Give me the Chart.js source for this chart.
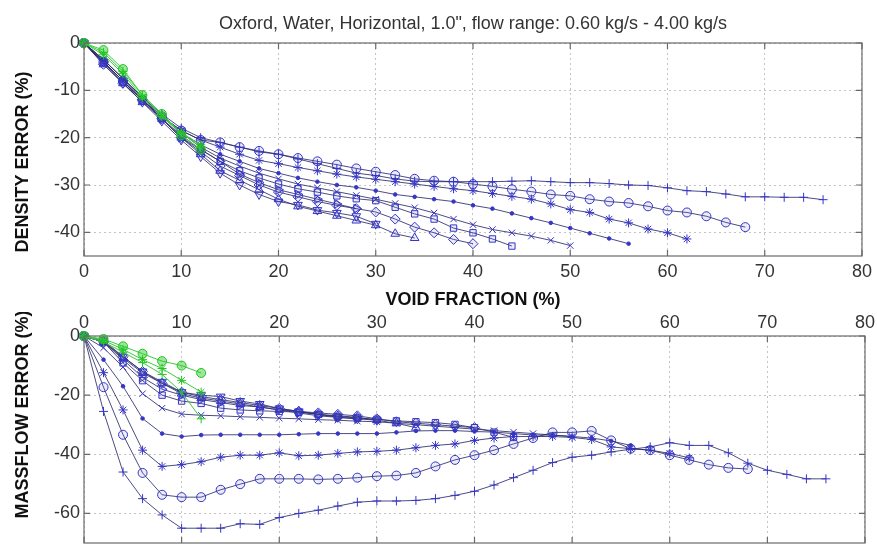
<!DOCTYPE html>
<html>
<head>
<meta charset="utf-8">
<script src="https://cdn.jsdelivr.net/npm/chart.js@4.4.1/dist/chart.umd.min.js"></script>
<style>
  html, body { margin: 0; padding: 0; background: #fff; overflow: hidden; }
  #wrap { position: relative; width: 877px; height: 546px; overflow: hidden; }
  #densityChart { position: absolute; left: 0; top: 0; }
  #massflowChart { position: absolute; left: 0; top: 312px; }
</style>
</head>
<body>
<div id="wrap">
  <canvas id="densityChart" width="877" height="312"></canvas>
  <canvas id="massflowChart" width="877" height="237"></canvas>
</div>
<script>
// Подписи
const chartTitle = 'Oxford, Water, Horizontal, 1.0", flow range: 0.60 kg/s - 4.00 kg/s';
const xAxisTitle = 'VOID FRACTION (%)';
const densityTitle = 'DENSITY ERROR (%)';
const massflowTitle = 'MASSFLOW ERROR (%)';

// Ось X и деления
const voidFraction = [0, 2, 4, 6, 8, 10, 12, 14, 16, 18, 20, 22, 24, 26, 28, 30, 32, 34, 36, 38,
                      40, 42, 44, 46, 48, 50, 52, 54, 56, 58, 60, 62, 64, 66, 68, 70, 72, 74, 76];
const xTicks = [0, 10, 20, 30, 40, 50, 60, 70, 80];
const densityTicks = [0, -10, -20, -30, -40];
const massflowTicks = [0, -20, -40, -60];

// Ошибка плотности (%)
const densGreenO    = [0, -1.5, -5.5, -11, -15, -19.5, -22.5];
const densGreenStar = [0, -2.5, -6.5, -11.5, -15.5, -19, -21.5];
const densGreenPlus = [0, -2, -6, -11, -15, -19, -22];
const densPlus = [0, -3.5, -7.5, -11.5, -15, -18, -20, -21, -22, -23, -23.5, -24.5, -25.5, -26.5, -27.5,
                  -28, -28.7, -29.2, -29.3, -29.3, -29.3, -29.3, -29.2, -29.1, -29.3, -29.5, -29.5, -29.7,
                  -30, -30.1, -30.6, -31.2, -31.4, -31.9, -32.5, -32.5, -32.6, -32.6, -33.1];
const densCircle = [0, -4, -8, -12, -15.5, -18.5, -20.5, -21, -22, -22.8, -23.5, -24.3, -25, -25.7, -26.5,
                    -27.2, -27.9, -28.7, -29.1, -29.3, -29.8, -30.3, -30.9, -31.4, -32, -32.3, -33, -33.5,
                    -33.8, -34.5, -35.4, -35.8, -36.6, -37.9, -38.9];
const densStar = [0, -3.5, -7.5, -11.5, -15.5, -18.5, -20.5, -22, -23.5, -24.8, -25.5, -26.3, -27, -27.7,
                  -28.3, -28.8, -29.3, -29.8, -30.3, -30.8, -31.2, -31.8, -32.4, -33, -34, -35.2, -35.8,
                  -37.2, -38, -39.3, -40.1, -41.4];
const densDot = [0, -3.5, -7.5, -11.5, -15.5, -19, -21.5, -23.5, -25, -26.5, -27.5, -28.5, -29.3, -30,
                 -30.5, -31.2, -32, -32.5, -33, -33.5, -34.3, -35, -36, -37, -38, -39.1, -40.2, -41.3, -42.4];
const densCross = [0, -4, -8, -12, -15.5, -19, -22, -24.3, -26, -27.5, -28.7, -29.8, -30.6, -31.4, -32.2,
                   -33, -33.9, -34.8, -35.9, -37.2, -38.4, -39.4, -40.1, -40.8, -41.7, -42.8];
const densSquare = [0, -4, -8, -12, -16, -19.5, -22.5, -25, -27, -28.5, -29.8, -30.8, -31.5, -32.3, -32.9,
                    -33.3, -34.7, -36.1, -37.2, -39.1, -40.1, -41.4, -42.9];
const densDiamond = [0, -4.5, -8.5, -12, -16, -20, -23, -26, -28, -30, -31.5, -32.5, -33.5, -34.3, -35,
                     -35.7, -37.2, -38.9, -40.1, -41.5, -42.4];
const densTriUp = [0, -4.5, -8.5, -12.5, -16, -20, -23.5, -27, -29, -31, -33, -34.5, -35.5, -36.5, -37.5,
                   -38.5, -40.3, -41.2];
const densTriDown = [0, -4, -8.5, -12.5, -16.5, -20.5, -24, -27.5, -30, -32, -33.5, -34.2, -35.3, -35.9,
                     -36.6, -38.2];
const densTriRight = [0, -4, -8, -12, -16, -20, -22.5, -25, -27.7, -29.5, -31, -32, -33, -34, -35];

// Ошибка массового расхода (%)
const massGreenO    = [0, -1, -3.5, -6, -8.5, -10, -12.5];
const massGreenStar = [0, -1.5, -4.5, -8, -11, -15, -19];
const massGreenPlus = [0, -2, -5.5, -9, -13, -19, -28];
const massPlus = [0, -25.5, -46, -55, -60.5, -65, -65, -65, -63.5, -63.7, -61.4, -60, -58.9, -57.5, -56.2,
                  -55.8, -55.8, -55.6, -55, -53.9, -52.5, -50.4, -47.9, -45.4, -42.8, -41, -40.3, -39.2,
                  -38.3, -37.5, -36.1, -37, -37, -39.5, -43, -45.4, -46.8, -48.3, -48.3];
const massCircle = [0, -17.3, -33.4, -46.3, -53.7, -54.5, -54.5, -52, -50.1, -48.3, -48.3, -48.3, -48.5,
                    -48.3, -47.9, -47.4, -47.2, -46.3, -44.1, -41.9, -40.3, -38.6, -36.5, -34.5, -32.6,
                    -32.6, -32.1, -35.3, -38.1, -38.6, -40.3, -41.9, -43.5, -44.6, -45];
const massStar = [0, -12.4, -25, -38.6, -44.1, -43.5, -42.5, -41, -40.3, -40.3, -39.5, -40.5, -40.3, -39.7,
                  -39.2, -39, -38.6, -37.8, -37, -36.5, -35.3, -34.5, -34, -34, -34, -34.3, -35, -37.5,
                  -38.1, -38.6, -39.7, -41.2];
const massDot = [0, -8, -17, -27.9, -33, -34, -33.5, -33.4, -33.4, -33.4, -33.4, -33.2, -33, -33, -33, -33,
                 -32.6, -32.1, -32, -32, -32.3, -32.5, -33, -33.5, -33.5, -34, -34.5, -35.5, -37];
const massCross = [0, -4, -10.5, -19.5, -24.4, -26.4, -26.8, -27, -27.3, -27.5, -27.8, -28, -28.3, -28.5,
                   -28.8, -29, -29.5, -30, -30.5, -31, -31.5, -32, -32.5, -33, -33.5, -34];
const massSquare = [0, -2, -9.1, -15.1, -20, -22, -22.8, -24.4, -25, -25.3, -25.5, -25.8, -26.5, -27.2,
                    -27.7, -28.2, -28.7, -29, -29.3, -29.9, -31, -32.5, -34.3];
const massDiamond = [0, -2, -7, -12, -16, -19, -20.5, -21.5, -22.5, -23.5, -24.5, -25.5, -26, -26.5, -27,
                     -28, -29, -29.5, -30, -30.5, -31];
const massTriUp = [0, -2, -7.5, -12.5, -16, -19.5, -21, -22, -23, -24, -25, -25.5, -26.5, -27, -27.5,
                   -28.5, -29.5, -31];
const massTriDown = [0, -1.5, -7, -12, -15.5, -19, -20, -20.5, -22, -23, -24.5, -25.5, -26.5, -27.5, -28, -28.5];
const massTriRight = [0, -2, -8, -14, -18, -20, -21.5, -22.5, -23.5, -24, -25, -26, -27, -27.5, -28];

// Стили маркеров (как в MATLAB)
const markers = {
    '+': { style: 'cross', radius: 4.5 },
    'o': { style: 'circle', radius: 4.5 },
    '*': { style: 'star', radius: 4.5 },
    '.': { style: 'circle', radius: 1.8, filled: true },
    'x': { style: 'crossRot', radius: 4.5 },
    's': { style: 'rect', radius: 4.5 },
    'd': { style: 'rectRot', radius: 5 },
    '^': { style: 'triangle', radius: 5 },
    'v': { style: 'triangle', radius: 5, rotation: 180 },
    '>': { style: 'triangle', radius: 5, rotation: 90 }
};
const blue = { line: 'rgba(45,45,110,0.85)', marker: '#3535c8', fill: 'rgba(90,90,225,0.12)' };
const green = { line: '#3ccc3c', marker: '#22c422', fill: 'rgba(40,200,40,0.45)' };

const FONT = '"Liberation Sans", Arial, Helvetica, sans-serif';

function buildDataset(values, marker, color) {
    const m = markers[marker];
    return {
        data: values.map((v, i) => ({ x: voidFraction[i], y: v })),
        borderColor: color.line,
        borderWidth: 1,
        pointStyle: m.style,
        pointRotation: m.rotation || 0,
        pointRadius: m.radius,
        pointBorderColor: color.marker,
        pointBackgroundColor: m.filled ? color.marker : color.fill,
        pointBorderWidth: 1,
        tension: 0,
        fill: false,
        clip: false
    };
}

// Рамка, внутренние засечки и заголовок
const matlabBox = {
    id: 'matlabBox',
    afterDraw(chart, args, opts) {
        const { ctx, chartArea: a, scales } = chart;
        ctx.save();
        ctx.strokeStyle = '#6a6a6a';
        ctx.lineWidth = 1.2;
        ctx.strokeRect(a.left, a.top, a.right - a.left, a.bottom - a.top);
        ctx.beginPath();
        scales.x.ticks.forEach(t => {
            const px = scales.x.getPixelForValue(t.value);
            ctx.moveTo(px, a.top); ctx.lineTo(px, a.top + 6);
            ctx.moveTo(px, a.bottom); ctx.lineTo(px, a.bottom - 6);
        });
        scales.y.ticks.forEach(t => {
            const py = scales.y.getPixelForValue(t.value);
            ctx.moveTo(a.left, py); ctx.lineTo(a.left + 6, py);
            ctx.moveTo(a.right, py); ctx.lineTo(a.right - 6, py);
        });
        ctx.stroke();
        if (opts.title) {
            ctx.fillStyle = '#333';
            ctx.font = '18px ' + FONT;
            ctx.textAlign = 'center';
            ctx.textBaseline = 'middle';
            ctx.fillText(opts.title, (a.left + a.right) / 2, opts.titleY);
        }
        ctx.restore();
    }
};

function makeOptions(cfg) {
    return {
        responsive: false,
        animation: false,
        events: [],
        layout: { padding: { top: cfg.padTop, right: 12, left: 0, bottom: 0 } },
        plugins: {
            legend: { display: false },
            tooltip: { enabled: false },
            matlabBox: { title: cfg.title, titleY: 24 }
        },
        scales: {
            x: {
                type: 'linear',
                position: cfg.xPos,
                min: 0,
                max: 80,
                afterBuildTicks: s => { s.ticks = xTicks.map(v => ({ value: v })); },
                afterFit: s => { s.height = cfg.xHeight; },
                grid: { color: '#c4c4c4', lineWidth: 1, drawTicks: false },
                border: { display: false, dash: [2, 3] },
                ticks: { color: '#333', padding: cfg.xPad, maxRotation: 0, font: { family: FONT, size: 18 } },
                title: {
                    display: !!cfg.xTitle,
                    text: cfg.xTitle || '',
                    color: '#111',
                    font: { family: FONT, size: 18, weight: 'bold' },
                    padding: { top: 0, bottom: 1 }
                }
            },
            y: {
                type: 'linear',
                min: cfg.yMin,
                max: 0,
                afterBuildTicks: s => { s.ticks = cfg.yTicks.map(v => ({ value: v })); },
                afterFit: s => { s.width = 84; s.paddingTop = 0; s.paddingBottom = 0; },
                grid: { color: '#c4c4c4', lineWidth: 1, drawTicks: false },
                border: { display: false, dash: [2, 3] },
                ticks: { color: '#333', padding: 4, font: { family: FONT, size: 18 } },
                title: {
                    display: true,
                    text: cfg.yTitle,
                    color: '#111',
                    font: { family: FONT, size: 18, weight: 'bold' },
                    padding: { top: 12, bottom: 0 }
                }
            }
        }
    };
}

const nb = n => '\u00a0'.repeat(n);

function createDensityChart() {
    const datasets = [
        buildDataset(densGreenO, 'o', green),
        buildDataset(densGreenStar, '*', green),
        buildDataset(densGreenPlus, '+', green),
        buildDataset(densPlus, '+', blue),
        buildDataset(densCircle, 'o', blue),
        buildDataset(densStar, '*', blue),
        buildDataset(densDot, '.', blue),
        buildDataset(densCross, 'x', blue),
        buildDataset(densSquare, 's', blue),
        buildDataset(densDiamond, 'd', blue),
        buildDataset(densTriUp, '^', blue),
        buildDataset(densTriDown, 'v', blue),
        buildDataset(densTriRight, '>', blue)
    ];
    new Chart(document.getElementById('densityChart').getContext('2d'), {
        type: 'line',
        data: { datasets },
        options: makeOptions({
            padTop: 43, xPos: 'bottom', xHeight: 56, xPad: 5, xTitle: xAxisTitle,
            yMin: -45, yTicks: densityTicks, yTitle: densityTitle + nb(5), title: chartTitle
        }),
        plugins: [matlabBox]
    });
}

function createMassflowChart() {
    const datasets = [
        buildDataset(massGreenO, 'o', green),
        buildDataset(massGreenStar, '*', green),
        buildDataset(massGreenPlus, '+', green),
        buildDataset(massPlus, '+', blue),
        buildDataset(massCircle, 'o', blue),
        buildDataset(massStar, '*', blue),
        buildDataset(massDot, '.', blue),
        buildDataset(massCross, 'x', blue),
        buildDataset(massSquare, 's', blue),
        buildDataset(massDiamond, 'd', blue),
        buildDataset(massTriUp, '^', blue),
        buildDataset(massTriDown, 'v', blue),
        buildDataset(massTriRight, '>', blue)
    ];
    new Chart(document.getElementById('massflowChart').getContext('2d'), {
        type: 'line',
        data: { datasets },
        options: makeOptions({
            padTop: 0, xPos: 'top', xHeight: 24, xPad: 2, xTitle: null,
            yMin: -70, yTicks: massflowTicks, yTitle: nb(10) + massflowTitle, title: null
        }),
        plugins: [matlabBox]
    });
}

createDensityChart();
createMassflowChart();
</script>
</body>
</html>
